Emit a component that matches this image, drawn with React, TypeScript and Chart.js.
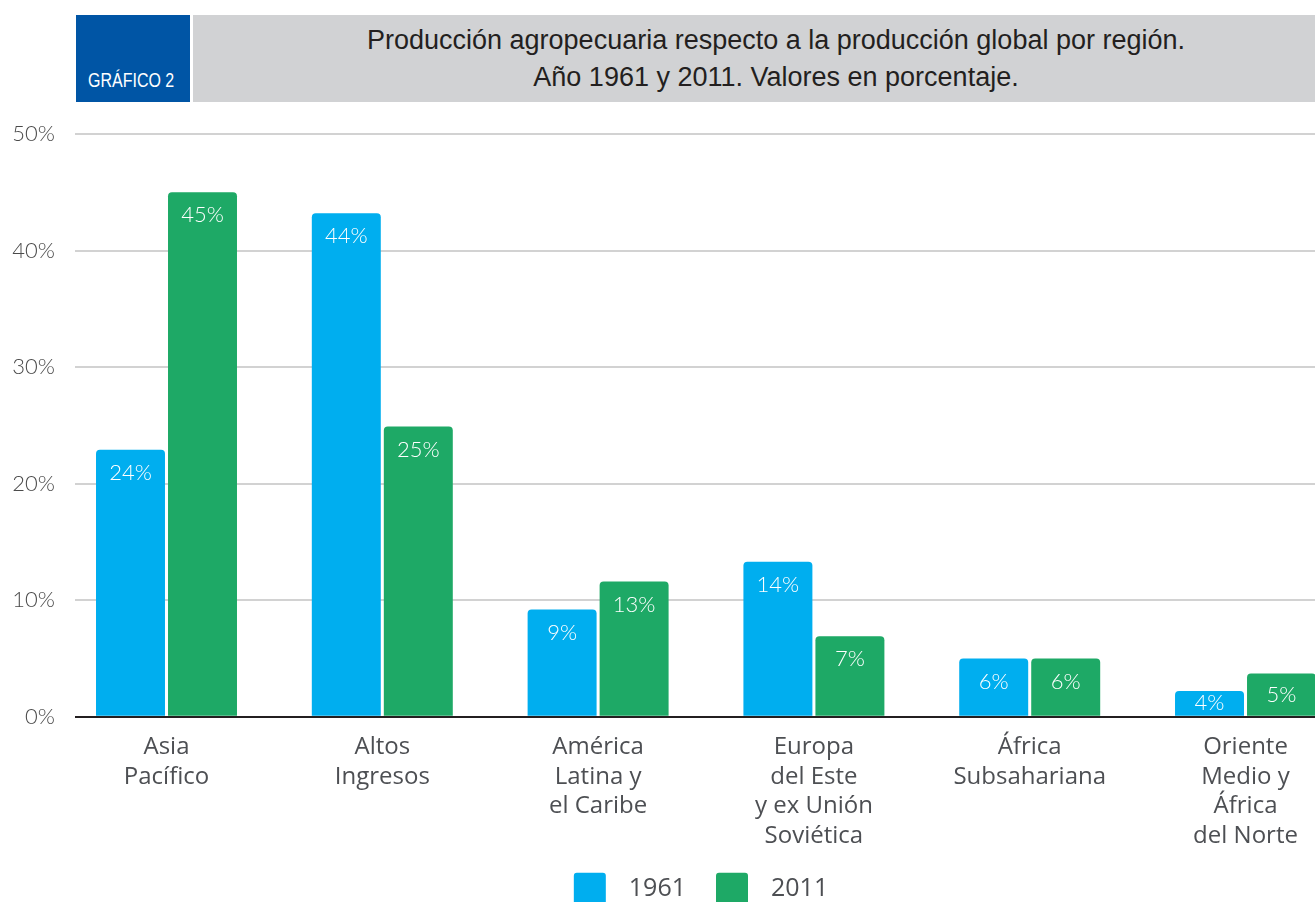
import React, { useEffect, useRef } from "react";
import { Chart, registerables } from "chart.js";

Chart.register(...registerables);

// ---------- data ----------
const badgeText = "GRÁFICO 2";
const titleLines = [
  "Producción agropecuaria respecto a la producción global por región.",
  "Año 1961 y 2011. Valores en porcentaje.",
];
const categories: string[][] = [
  ["Asia", "Pacífico"],
  ["Altos", "Ingresos"],
  ["América", "Latina y", "el Caribe"],
  ["Europa", "del Este", "y ex Unión", "Soviética"],
  ["África", "Subsahariana"],
  ["Oriente", "Medio y", "África", "del Norte"],
];
const seriesNames = ["1961", "2011"];
const values1961 = [22.9, 43.2, 9.2, 13.3, 5.0, 2.2];
const values2011 = [45.0, 24.9, 11.6, 6.9, 5.0, 3.7];
const labels1961 = ["24%", "44%", "9%", "14%", "6%", "4%"];
const labels2011 = ["45%", "25%", "13%", "7%", "6%", "5%"];
const yTickValues = [0, 10, 20, 30, 40, 50];

// ---------- styles ----------
const BLUE = "#00aeef";
const GREEN = "#1ea966";
const TEXT_GREY = "#4d4f53";
const THIN_FONT = "Lato, 'Noto Sans', sans-serif";
const CAT_FONT = "'Open Sans', 'Noto Sans', sans-serif";

const barLabelPlugin = {
  id: "barLabels",
  afterDatasetsDraw(chart: any) {
    const ctx = chart.ctx;
    ctx.save();
    ctx.fillStyle = "#ffffff";
    ctx.font = `300 22px ${THIN_FONT}`;
    ctx.textAlign = "center";
    ctx.textBaseline = "middle";
    chart.data.datasets.forEach((ds: any, di: number) => {
      const meta = chart.getDatasetMeta(di);
      const texts: string[] = ds.valueLabels;
      meta.data.forEach((bar: any, i: number) => {
        const top = bar.y;
        const base = bar.base;
        const cy = Math.min(top + 23, (top + base) / 2);
        ctx.fillText(texts[i], bar.x, cy);
      });
    });
    ctx.restore();
  },
};

const legendPlugin = {
  id: "customLegend",
  afterDraw(chart: any) {
    const ctx = chart.ctx;
    const area = chart.chartArea;
    const box = 32;
    const gapBoxText = 23;
    const itemGap = 30;
    ctx.save();
    ctx.font = `25px ${CAT_FONT}`;
    const items = chart.data.datasets.map((ds: any) => ({
      label: ds.label,
      color: ds.backgroundColor,
      w: ctx.measureText(ds.label).width,
    }));
    const total =
      items.reduce((s: number, it: any) => s + box + gapBoxText + it.w, 0) +
      itemGap * (items.length - 1);
    let x = (area.left + area.right) / 2 + 6 - total / 2;
    const y = area.bottom + 156;
    items.forEach((it: any) => {
      ctx.fillStyle = it.color;
      ctx.beginPath();
      (ctx as any).roundRect(x, y, box, box, 3);
      ctx.fill();
      ctx.fillStyle = TEXT_GREY;
      ctx.textAlign = "left";
      ctx.textBaseline = "middle";
      ctx.fillText(it.label, x + box + gapBoxText, y + box / 2);
      x += box + gapBoxText + it.w + itemGap;
    });
    ctx.restore();
  },
};

export default function App() {
  const canvasRef = useRef<HTMLCanvasElement | null>(null);

  useEffect(() => {
    const canvas = canvasRef.current;
    if (!canvas) return;
    const xMin = -0.424;
    const xMax = 5.322;
    const chart = new Chart(canvas, {
      type: "bar",
      data: {
        datasets: [
          {
            label: seriesNames[0],
            data: values1961.map((v, i) => ({ x: i, y: v })),
            backgroundColor: BLUE,
            borderRadius: { topLeft: 4, topRight: 4, bottomLeft: 0, bottomRight: 0 },
            borderSkipped: "bottom",
            categoryPercentage: 0.6673,
            barPercentage: 0.958,
            valueLabels: labels1961,
          } as any,
          {
            label: seriesNames[1],
            data: values2011.map((v, i) => ({ x: i, y: v })),
            backgroundColor: GREEN,
            borderRadius: { topLeft: 4, topRight: 4, bottomLeft: 0, bottomRight: 0 },
            borderSkipped: "bottom",
            categoryPercentage: 0.6673,
            barPercentage: 0.958,
            valueLabels: labels2011,
          } as any,
        ],
      },
      options: {
        animation: false,
        responsive: false,
        maintainAspectRatio: false,
        layout: { padding: { top: 134, left: 0, right: 0, bottom: 0 } },
        plugins: {
          legend: { display: false },
          tooltip: { enabled: false },
          title: { display: false },
        },
        scales: {
          x: {
            type: "linear",
            min: xMin,
            max: xMax,
            bounds: "data",
            offset: false,
            afterBuildTicks: (scale: any) => {
              scale.ticks = categories.map((_, i) => ({ value: i }));
            },
            afterFit: (scale: any) => {
              scale.height = 203.3;
            },
            grid: { display: false, drawTicks: false },
            border: { display: false },
            ticks: {
              autoSkip: false,
              maxRotation: 0,
              minRotation: 0,
              padding: 16,
              color: TEXT_GREY,
              font: { family: CAT_FONT, size: 24, lineHeight: 1.23 },
              callback: (v: any) => categories[Math.round(v)] ?? "",
            },
          },
          y: {
            min: 0,
            max: 50,
            afterBuildTicks: (scale: any) => {
              scale.ticks = yTickValues.map((v) => ({ value: v }));
            },
            afterFit: (scale: any) => {
              scale.width = 75;
            },
            grid: {
              drawTicks: false,
              color: (c: any) => (c.tick && c.tick.value === 0 ? "#231f20" : "#d2d2d2"),
              lineWidth: 2,
            },
            border: { display: false },
            ticks: {
              padding: 20,
              color: "#4a4a4a",
              font: { family: THIN_FONT, size: 22, weight: 300 as any },
              callback: (v: any) => `${v}%`,
            },
          },
        },
      } as any,
      plugins: [barLabelPlugin, legendPlugin],
    });
    return () => chart.destroy();
  }, []);

  return (
    <div
      style={{
        position: "absolute",
        left: 0,
        top: 0,
        width: 1315,
        height: 902,
        overflow: "hidden",
        background: "#ffffff",
      }}
    >
      <canvas
        ref={canvasRef}
        width={1315}
        height={920}
        style={{ position: "absolute", left: 0, top: 0, width: 1315, height: 920 }}
      />
      <div
        style={{
          position: "absolute",
          left: 76,
          top: 15,
          width: 114,
          height: 87,
          background: "#0055a5",
        }}
      >
        <span
          style={{
            position: "absolute",
            left: 12,
            top: 54.5,
            fontFamily: "'Liberation Sans', Arial, sans-serif",
            fontSize: 20,
            lineHeight: "20px",
            color: "#ffffff",
            whiteSpace: "nowrap",
            display: "inline-block",
            transform: "scaleX(0.8)",
            transformOrigin: "left center",
          }}
        >
          {badgeText}
        </span>
      </div>
      <div
        style={{
          position: "absolute",
          left: 193,
          top: 15,
          width: 1122,
          height: 87,
          background: "#d1d2d4",
          boxSizing: "border-box",
          paddingLeft: 44,
          paddingTop: 7,
          textAlign: "center",
          fontFamily: "'Liberation Sans', Arial, sans-serif",
          fontSize: 27,
          lineHeight: "37px",
          color: "#231f20",
        }}
      >
        {titleLines.map((t, i) => (
          <div key={i} style={{ whiteSpace: "nowrap" }}>
            {t}
          </div>
        ))}
      </div>
    </div>
  );
}
